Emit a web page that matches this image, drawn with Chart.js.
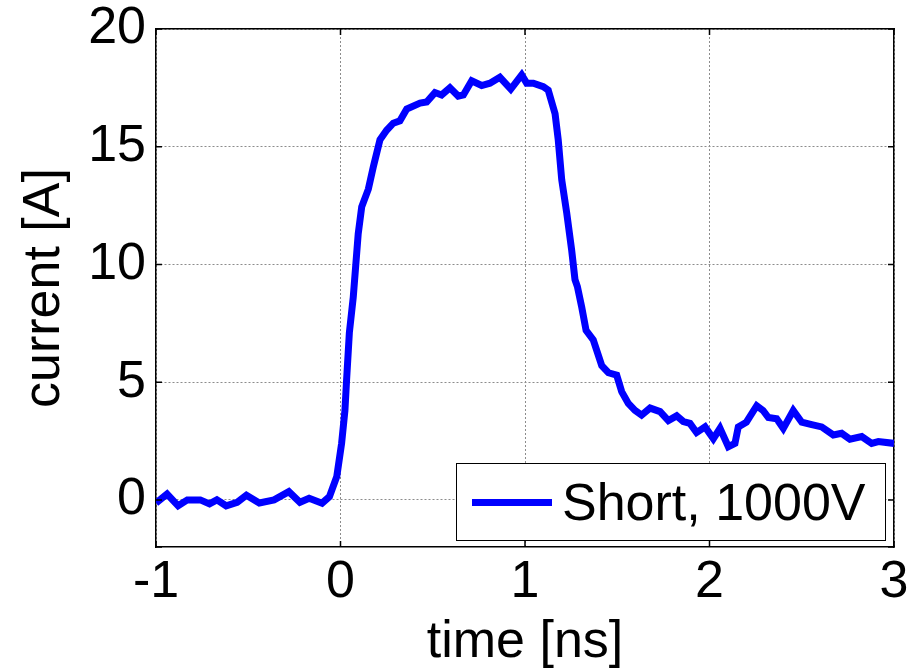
<!DOCTYPE html>
<html>
<head>
<meta charset="UTF-8">
<title>Short, 1000V</title>
<script src="https://cdn.jsdelivr.net/npm/chart.js"></script>
<style>
    body {
        margin: 0;
        background: #fff;
        font-family: 'Liberation Sans', Arial, sans-serif;
    }
    .wrap {
        position: relative;
        width: 913px;
        height: 670px;
    }
    /* legend box, sits inside the plot (bottom right) */
    .legend {
        position: absolute;
        left: 456px;
        top: 463px;
        width: 430px;
        height: 78px;
        background: #fff;
        border: 1.5px solid #000;
        box-sizing: border-box;
        display: flex;
        align-items: center;
        font-size: 52px;
        color: #000;
    }
    .legend .swatch {
        width: 80px;
        height: 7px;
        background: #0000ff;
        margin-left: 15px;
        margin-right: 10px;
    }
</style>
</head>
<body>
<div class="wrap">
    <canvas id="chart"></canvas>
    <div class="legend"><span class="swatch"></span><span>Short, 1000V</span></div>
</div>

<script>
const timeNs = [-1.0, -0.94, -0.88, -0.83, -0.76, -0.71, -0.67, -0.62, -0.56, -0.51,
    -0.44, -0.36, -0.28, -0.22, -0.17, -0.10, -0.06, -0.02, 0.006, 0.024,
    0.033, 0.048, 0.069, 0.096, 0.115, 0.151, 0.178, 0.214, 0.25, 0.286,
    0.322, 0.359, 0.431, 0.467, 0.512, 0.548, 0.593, 0.638, 0.666, 0.711,
    0.765, 0.81, 0.864, 0.923, 0.982, 1.009, 1.045, 1.099, 1.126, 1.163,
    1.18, 1.199, 1.226, 1.253, 1.271, 1.284, 1.307, 1.331, 1.37, 1.416,
    1.452, 1.497, 1.524, 1.56, 1.596, 1.632, 1.678, 1.732, 1.777, 1.822,
    1.858, 1.894, 1.93, 1.976, 2.021, 2.057, 2.102, 2.138, 2.156, 2.2,
    2.256, 2.29, 2.319, 2.364, 2.4, 2.454, 2.5, 2.554, 2.608, 2.671,
    2.716, 2.761, 2.825, 2.879, 2.915, 3.0];

const currentA = [-0.13, 0.25, -0.25, 0.0, 0.0, -0.17, 0.0, -0.25, -0.1, 0.2,
    -0.13, 0.0, 0.35, -0.1, 0.07, -0.14, 0.14, 1.0, 2.4, 3.8,
    5.1, 7.1, 8.6, 11.3, 12.45, 13.2, 14.15, 15.3, 15.7, 16.0,
    16.1, 16.6, 16.85, 16.9, 17.3, 17.2, 17.5, 17.15, 17.2, 17.8,
    17.6, 17.7, 17.95, 17.45, 18.05, 17.7, 17.7, 17.55, 17.4, 16.4,
    15.3, 13.6, 12.2, 10.6, 9.35, 9.06, 8.2, 7.2, 6.8, 5.7,
    5.4, 5.3, 4.6, 4.1, 3.8, 3.6, 3.9, 3.75, 3.37, 3.57,
    3.33, 3.25, 2.86, 3.1, 2.6, 3.04, 2.26, 2.4, 3.1, 3.3,
    4.0, 3.8, 3.5, 3.45, 3.04, 3.8, 3.3, 3.2, 3.1, 2.76,
    2.83, 2.58, 2.69, 2.4, 2.48, 2.4];

const xTicks = [-1, 0, 1, 2, 3];
const yTicks = [0, 5, 10, 15, 20];

const points = timeNs.map((t, i) => ({ x: t, y: currentA[i] }));

const axisFont = { family: "'Liberation Sans', Arial, sans-serif", size: 52 };
const titleFont = { family: "'Liberation Sans', Arial, sans-serif", size: 52, lineHeight: 1 };

// little inward tick marks, matlab style
const innerTicks = {
    id: 'innerTicks',
    afterDraw(chart) {
        const { ctx, chartArea: a, scales } = chart;
        const len = 6;
        ctx.save();
        ctx.strokeStyle = '#000';
        ctx.lineWidth = 1.5;
        ctx.beginPath();
        xTicks.forEach(v => {
            const px = scales.x.getPixelForValue(v);
            ctx.moveTo(px, a.bottom); ctx.lineTo(px, a.bottom - len);
            ctx.moveTo(px, a.top); ctx.lineTo(px, a.top + len);
        });
        [-2].concat(yTicks).forEach(v => {
            const py = scales.y.getPixelForValue(v);
            ctx.moveTo(a.left, py); ctx.lineTo(a.left + len, py);
            ctx.moveTo(a.right, py); ctx.lineTo(a.right - len, py);
        });
        ctx.stroke();
        ctx.restore();
    }
};

const gridStyle = { color: '#8c8c8c', lineWidth: 1, drawTicks: false };
const borderStyle = { color: '#000', width: 1.5, dash: [2, 2] };

new Chart(document.getElementById('chart'), {
    type: 'line',
    data: {
        datasets: [{
            label: 'Short, 1000V',
            data: points,
            borderColor: '#0000ff',
            borderWidth: 7,
            pointRadius: 0,
            tension: 0,
            fill: false
        }]
    },
    options: {
        responsive: true,
        maintainAspectRatio: false,
        animation: false,
        layout: { padding: { top: 29, right: 19, left: 0, bottom: 0 } },
        plugins: {
            legend: { display: false },
            tooltip: { enabled: false }
        },
        scales: {
            x: {
                type: 'linear',
                position: 'bottom',
                min: -1,
                max: 3,
                afterBuildTicks: s => { s.ticks = xTicks.map(v => ({ value: v })); },
                afterFit: s => { s.height = 123; s.paddingLeft = 0; s.paddingRight = 0; },
                ticks: { color: '#000', font: axisFont, padding: 4, maxRotation: 0 },
                grid: gridStyle,
                border: borderStyle,
                title: { display: true, text: 'time [ns]', color: '#000', font: titleFont, padding: { top: 0, bottom: 1 } }
            },
            y: {
                type: 'linear',
                min: -2,
                max: 20,
                afterBuildTicks: s => { s.ticks = yTicks.map(v => ({ value: v })); },
                afterFit: s => { s.width = 156; s.paddingTop = 0; s.paddingBottom = 0; },
                ticks: { color: '#000', font: axisFont, padding: 10 },
                grid: gridStyle,
                border: borderStyle,
                title: { display: true, text: 'current [A]', color: '#000', font: titleFont, padding: { top: 19, bottom: 0 } }
            },
            x2: {
                type: 'linear',
                position: 'top',
                min: -1,
                max: 3,
                afterFit: s => { s.height = 0; },
                ticks: { display: false },
                grid: { display: false, drawTicks: false },
                border: { color: '#000', width: 1.5 }
            },
            y2: {
                type: 'linear',
                position: 'right',
                min: -2,
                max: 20,
                afterFit: s => { s.width = 0; },
                ticks: { display: false },
                grid: { display: false, drawTicks: false },
                border: { color: '#000', width: 1.5 }
            }
        }
    },
    plugins: [innerTicks]
});
</script>
</body>
</html>
